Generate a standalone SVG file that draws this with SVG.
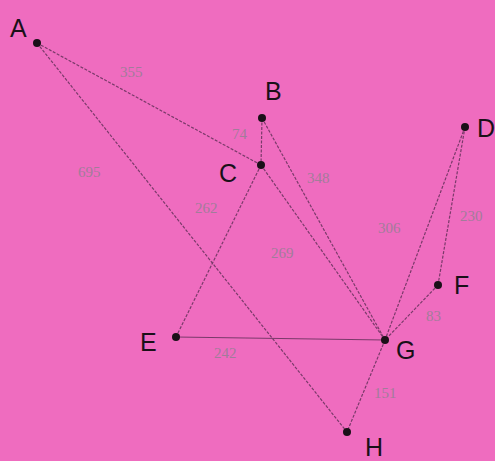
<svg xmlns="http://www.w3.org/2000/svg" width="495" height="461" viewBox="0 0 495 461">
<style>
.e{stroke:#7a3a6a;stroke-width:1.2;stroke-dasharray:3 1.5;fill:none}
.n{fill:#1a1018}
.l{font-family:"Liberation Sans",Arial,sans-serif;font-size:25px;fill:#1a1018}
.w{font-family:"Liberation Serif","Times New Roman",serif;font-size:15px;fill:#a27c9a}
</style>
<rect width="495" height="461" fill="#ef6cbf"/>
<g id="connectors">
<line class="e" x1="37" y1="43" x2="261" y2="165"/>
<line class="e" x1="37" y1="43" x2="347" y2="432"/>
<line class="e" x1="262" y1="118" x2="261" y2="165"/>
<line class="e" x1="262" y1="118" x2="385" y2="340"/>
<line class="e" x1="261" y1="165" x2="385" y2="340"/>
<line class="e" x1="261" y1="165" x2="176" y2="337"/>
<line class="e" x1="465" y1="127" x2="385" y2="340"/>
<line class="e" x1="465" y1="127" x2="438" y2="285"/>
<line class="e" x1="438" y1="285" x2="385" y2="340"/>
<line class="e" x1="176" y1="337" x2="385" y2="340" style="stroke-dasharray:none"/>
<line class="e" x1="385" y1="340" x2="347" y2="432"/>
<text class="w" x="120" y="77">355</text>
<text class="w" x="78" y="177">695</text>
<text class="w" x="232" y="139">74</text>
<text class="w" x="307" y="183">348</text>
<text class="w" x="195" y="213">262</text>
<text class="w" x="271" y="258">269</text>
<text class="w" x="378" y="233">306</text>
<text class="w" x="460" y="221">230</text>
<text class="w" x="426" y="321">83</text>
<text class="w" x="214" y="358">242</text>
<text class="w" x="374" y="398">151</text>
</g>
<g id="A"><circle class="n" cx="37" cy="43" r="4"/><text class="l" x="10" y="37">A</text></g>
<g id="B"><circle class="n" cx="262" cy="118" r="4"/><text class="l" x="265" y="100">B</text></g>
<g id="C"><circle class="n" cx="261" cy="165" r="4"/><text class="l" x="219" y="182">C</text></g>
<g id="D"><circle class="n" cx="465" cy="127" r="4"/><text class="l" x="477" y="137">D</text></g>
<g id="E"><circle class="n" cx="176" cy="337" r="4"/><text class="l" x="140" y="351">E</text></g>
<g id="F"><circle class="n" cx="438" cy="285" r="4"/><text class="l" x="454" y="294">F</text></g>
<g id="G"><circle class="n" cx="385" cy="340" r="4"/><text class="l" x="396" y="359">G</text></g>
<g id="H"><circle class="n" cx="347" cy="432" r="4"/><text class="l" x="365" y="456">H</text></g>
</svg>
